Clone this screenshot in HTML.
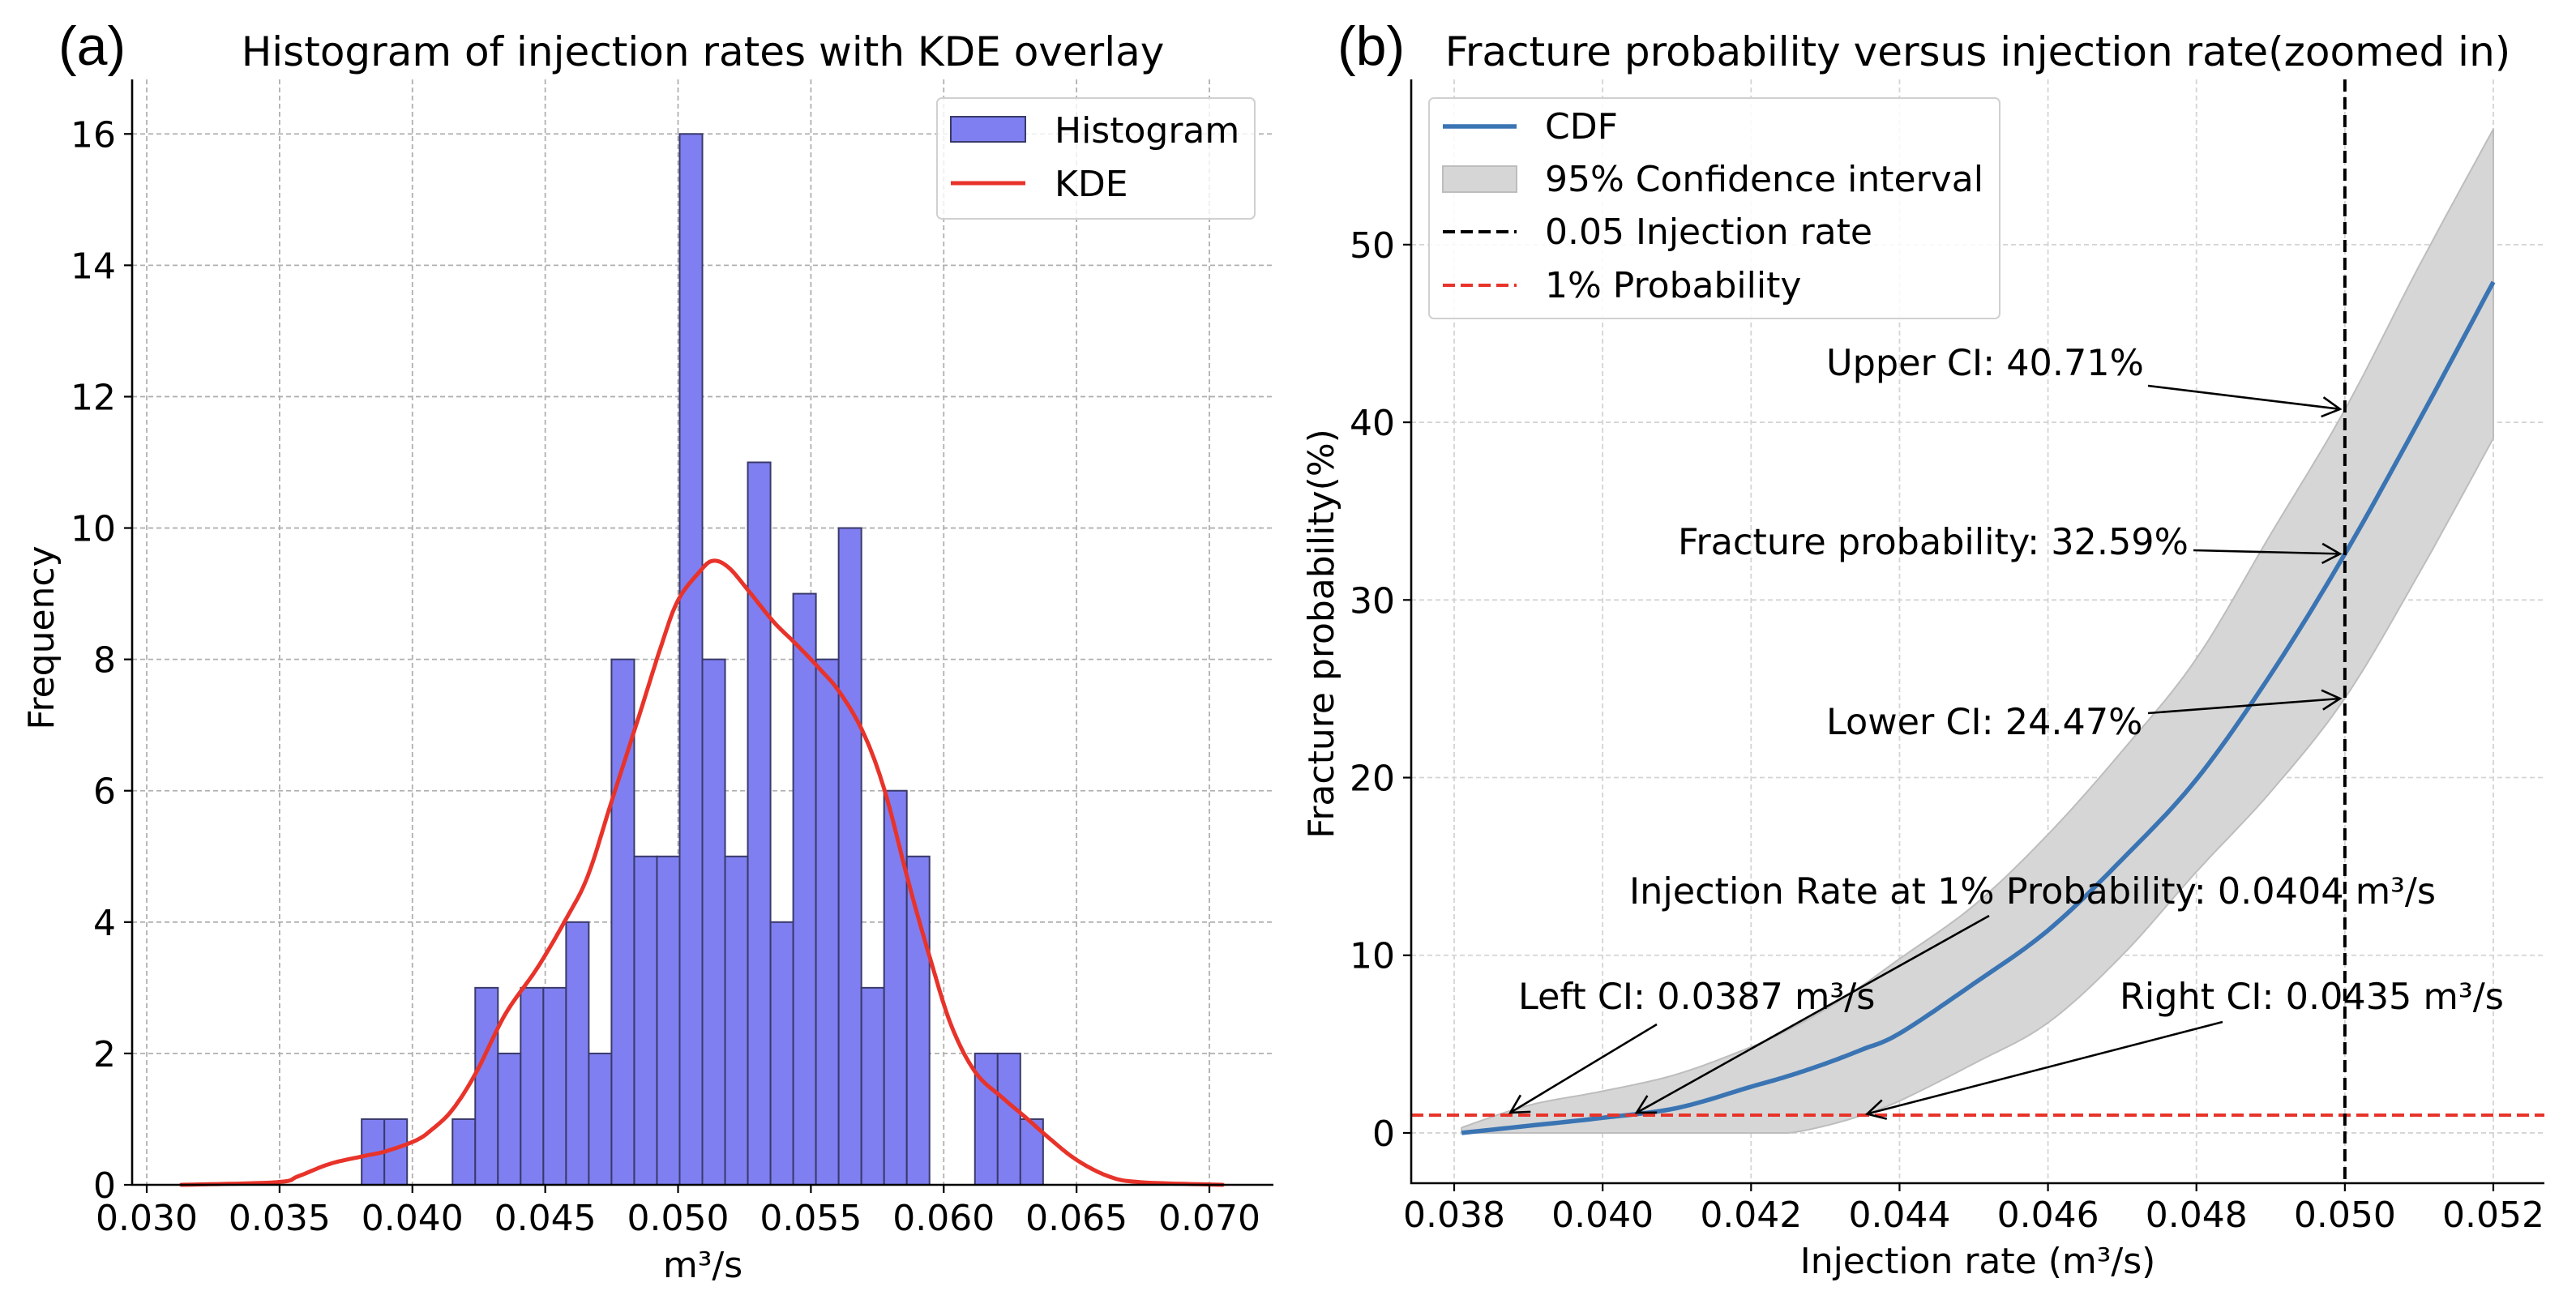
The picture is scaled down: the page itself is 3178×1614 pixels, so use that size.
<!DOCTYPE html>
<html><head><meta charset="utf-8">
<style>
html,body{margin:0;padding:0;background:#fff;}
svg{display:block;font-family:"DejaVu Sans","Liberation Sans",sans-serif;}
</style></head>
<body>
<svg id="fig" xmlns="http://www.w3.org/2000/svg" width="3178" height="1614" viewBox="0 0 3178 1614">
<defs>
<clipPath id="clipA"><rect x="163" y="98" width="1408" height="1364"/></clipPath>
<clipPath id="clipB"><rect x="1741" y="98" width="1398" height="1362"/></clipPath>
</defs>
<g id="panelA"></g>
<g id="panelB"></g>
</svg>
<script>
// ---------- Panel (a) data ----------
const binStart = 0.03809;
const binWidth = 0.000855;
const binCounts = [1,1,0,0,1,3,2,3,3,4,2,8,5,5,16,8,5,11,4,9,8,10,3,6,5,0,0,2,2,1];
const kdeX = [0.0313,0.0349,0.0357,0.0369,0.0382,0.0390,0.0401,0.0407,0.0415,0.0424,0.0435,0.0447,0.0458,0.0466,0.0475,0.0485,0.0494,0.0500,0.0508,0.0513,0.0519,0.0527,0.0536,0.0544,0.0553,0.0561,0.0570,0.0578,0.0587,0.0595,0.0603,0.0612,0.0622,0.0631,0.0640,0.0650,0.0662,0.0674,0.0705];
const kdeY = [0.0,0.04,0.13,0.32,0.44,0.51,0.67,0.83,1.14,1.71,2.6,3.3,4.06,4.7,5.84,7.1,8.25,8.9,9.33,9.5,9.4,9.02,8.57,8.25,7.87,7.49,6.86,5.97,4.57,3.43,2.41,1.71,1.33,1.02,0.70,0.38,0.13,0.04,0.0];
const aXTicks = [0.030,0.035,0.040,0.045,0.050,0.055,0.060,0.065,0.070];
const aXTickLabels = ["0.030","0.035","0.040","0.045","0.050","0.055","0.060","0.065","0.070"];
const aYTicks = [0,2,4,6,8,10,12,14,16];

// ---------- Panel (b) data ----------
const rateX = [0.0381,0.039,0.040,0.041,0.042,0.0425,0.043,0.0435,0.044,0.045,0.046,0.047,0.048,0.049,0.050,0.051,0.052];
const cdfY = [0,0.4,0.85,1.4,2.6,3.2,3.9,4.7,5.6,8.4,11.4,15.4,19.9,25.8,32.59,40.1,47.9];
const upperY = [0.3,1.55,2.35,3.3,4.84,5.8,6.95,8.3,9.8,12.8,16.8,21.5,26.7,33.7,40.71,48.8,56.5];
const lowerY = [0,0,0,0,0,0,0.4,1.0,1.8,3.9,6.2,10,14.7,19.2,24.47,31.5,39.1];
const bXTicks = [0.038,0.040,0.042,0.044,0.046,0.048,0.050,0.052];
const bXTickLabels = ["0.038","0.040","0.042","0.044","0.046","0.048","0.050","0.052"];
const bYTicks = [0,10,20,30,40,50];
const refRate = 0.05;
const refProb = 1;
const annFrac = 32.59, annUpper = 40.71, annLower = 24.47;
const rate1pct = 0.0404, leftCI = 0.0387, rightCI = 0.0435;

const NS = "http://www.w3.org/2000/svg";
function mk(parent, tag, attrs, text){
  const e = document.createElementNS(NS, tag);
  for (const k in attrs) e.setAttribute(k, attrs[k]);
  if (text !== undefined) e.textContent = text;
  parent.appendChild(e);
  return e;
}
function lin(d0,d1,r0,r1){ return v => r0 + (v-d0)/(d1-d0)*(r1-r0); }
// Catmull-Rom sampling in data space, clamped >= 0
function smooth(xs, ys){
  const out=[];
  const n=xs.length;
  for(let i=0;i<n-1;i++){
    const x0=xs[Math.max(i-1,0)], x1=xs[i], x2=xs[i+1], x3=xs[Math.min(i+2,n-1)];
    const y0=ys[Math.max(i-1,0)], y1=ys[i], y2=ys[i+1], y3=ys[Math.min(i+2,n-1)];
    for(let s=0;s<12;s++){
      const t=s/12, t2=t*t, t3=t2*t;
      const f=(a,b,c,d)=>0.5*((2*b)+(-a+c)*t+(2*a-5*b+4*c-d)*t2+(-a+3*b-3*c+d)*t3);
      out.push([f(x0,x1,x2,x3), Math.max(0,f(y0,y1,y2,y3))]);
    }
  }
  out.push([xs[n-1],ys[n-1]]);
  return out;
}

// ===== Panel A =====
const A = document.getElementById('panelA');
const axL=163, axR=1571, axT=98, axB=1462;
const xa = lin(0.02945, 0.07241, axL, axR);
const ya = lin(0, 16.83, axB, axT);

const gA = mk(A,'g',{});


aXTicks.forEach(t=>{ mk(gA,'line',{x1:xa(t),x2:xa(t),y1:axT,y2:axB,stroke:'#b0b0b0','stroke-width':1.8,'stroke-dasharray':'6,4'}); });
aYTicks.forEach(t=>{ mk(gA,'line',{x1:axL,x2:axR,y1:ya(t),y2:ya(t),stroke:'#b0b0b0','stroke-width':1.8,'stroke-dasharray':'6,4'}); });

const barsG = mk(A,'g',{'clip-path':'url(#clipA)'});


binCounts.forEach((c,i)=>{
  if (c<=0) return;
  const x0 = xa(binStart+i*binWidth), x1 = xa(binStart+(i+1)*binWidth);
  const r = mk(barsG,'rect',{x:x0,y:ya(c),width:x1-x0,height:ya(0)-ya(c),fill:'#7f7ff2',stroke:'#3a3a6a','stroke-width':2});
  
  
});

let kd = smooth(kdeX,kdeY).map((p,i)=>(i?'L':'M')+xa(p[0]).toFixed(1)+','+ya(p[1]).toFixed(1)).join(' ');
const kdeLine = mk(A,'path',{d:kd,fill:'none',stroke:'#e8332a','stroke-width':5,'stroke-linejoin':'round','stroke-linecap':'round'});



const spA = mk(A,'path',{d:`M${axL},${axT} L${axL},${axB} L${axR},${axB}`,fill:'none',stroke:'#000','stroke-width':2.6});



aXTicks.forEach((t,i)=>{
  mk(A,'line',{x1:xa(t),x2:xa(t),y1:axB,y2:axB+10,stroke:'#000','stroke-width':2.2});
  const tl = mk(A,'text',{x:xa(t),y:1518,'font-size':44,'text-anchor':'middle',fill:'#000'},aXTickLabels[i]);
  
  
});
aYTicks.forEach(t=>{
  mk(A,'line',{x1:axL-10,x2:axL,y1:ya(t),y2:ya(t),stroke:'#000','stroke-width':2.2});
  const tl = mk(A,'text',{x:axL-20,y:ya(t)+16,'font-size':44,'text-anchor':'end',fill:'#000'},String(t));
  
  
});
</script>
<script>
(function(){
const A = document.getElementById('panelA');
const NS="http://www.w3.org/2000/svg";
function t(attrs,txt,name){const e=document.createElementNS(NS,'text');for(const k in attrs)e.setAttribute(k,attrs[k]);e.textContent=txt;


A.appendChild(e);return e;}
t({x:867,y:81,'font-size':50,'text-anchor':'middle'},'Histogram of injection rates with KDE overlay','histogram-title');
t({x:72,y:80,'font-size':68,'font-family':'Liberation Sans, sans-serif'},'(a)','panel-a-label');
t({x:867,y:1576,'font-size':44,'text-anchor':'middle'},'m³/s','x-axis-title');
t({x:0,y:0,'font-size':44,'text-anchor':'middle',transform:'translate(66,787) rotate(-90)'},'Frequency','y-axis-title');
const lg=document.createElementNS(NS,'g');


A.appendChild(lg);
const bx=document.createElementNS(NS,'rect');
[['x',1156],['y',121],['width',392],['height',149],['rx',6],['fill','#fff'],['fill-opacity','0.8'],['stroke','#d0d0d0'],['stroke-width',2]].forEach(p=>bx.setAttribute(p[0],p[1]));
lg.appendChild(bx);
const pt=document.createElementNS(NS,'rect');
[['x',1173],['y',144],['width',92],['height',31],['fill','#7f7ff2'],['stroke','#3a3a6a'],['stroke-width',2]].forEach(p=>pt.setAttribute(p[0],p[1]));


lg.appendChild(pt);
const ln=document.createElementNS(NS,'line');
[['x1',1173],['x2',1265],['y1',226],['y2',226],['stroke','#e8332a'],['stroke-width',5]].forEach(p=>ln.setAttribute(p[0],p[1]));


lg.appendChild(ln);
const a1=t({x:1301,y:176,'font-size':44},'Histogram','legend-entry-histogram'); lg.appendChild(a1);
const a2=t({x:1301,y:242,'font-size':44},'KDE','legend-entry-kde'); lg.appendChild(a2);
})();
</script>
<script>
(function(){
const B = document.getElementById('panelB');
const L=1741,R=3139,T=98,Bm=1460;
const xb = lin(0.037421,0.052688,L,R);
const yb = lin(-2.83,59.3,Bm,T);

const g = mk(B,'g',{});


bXTicks.forEach(v=>mk(g,'line',{x1:xb(v),x2:xb(v),y1:T,y2:Bm,stroke:'#d4d4d4','stroke-width':1.8,'stroke-dasharray':'6,4'}));
bYTicks.forEach(v=>mk(g,'line',{x1:L,x2:R,y1:yb(v),y2:yb(v),stroke:'#d4d4d4','stroke-width':1.8,'stroke-dasharray':'6,4'}));

const up = smooth(rateX,upperY), lo = smooth(rateX,lowerY);
let d = up.map((p,i)=>(i?'L':'M')+xb(p[0]).toFixed(1)+','+yb(p[1]).toFixed(1)).join(' ');
for (let i=lo.length-1;i>=0;i--) d += ' L'+xb(lo[i][0]).toFixed(1)+','+yb(lo[i][1]).toFixed(1);
d += ' Z';
const band = mk(B,'path',{d:d,fill:'#d6d6d6',stroke:'#bdbdbd','stroke-width':2,'stroke-linejoin':'round'});



const cd = smooth(rateX,cdfY).map((p,i)=>(i?'L':'M')+xb(p[0]).toFixed(1)+','+yb(p[1]).toFixed(1)).join(' ');
const cdf = mk(B,'path',{d:cd,fill:'none',stroke:'#3a74b3','stroke-width':5.5,'stroke-linejoin':'round'});



const hl = mk(B,'line',{x1:L,x2:R,y1:yb(refProb),y2:yb(refProb),stroke:'#e8332a','stroke-width':4,'stroke-dasharray':'15,7'});


const vl = mk(B,'line',{x1:xb(refRate),x2:xb(refRate),y1:T,y2:Bm,stroke:'#000','stroke-width':4,'stroke-dasharray':'15,7'});



const sp = mk(B,'path',{d:`M${L},${T} L${L},${Bm} L${R},${Bm}`,fill:'none',stroke:'#000','stroke-width':2.6});



bXTicks.forEach((v,i)=>{
  mk(B,'line',{x1:xb(v),x2:xb(v),y1:Bm,y2:Bm+10,stroke:'#000','stroke-width':2.2});
  const tl = mk(B,'text',{x:xb(v),y:1514,'font-size':44,'text-anchor':'middle'},bXTickLabels[i]);
  
  
});
bYTicks.forEach(v=>{
  mk(B,'line',{x1:L-10,x2:L,y1:yb(v),y2:yb(v),stroke:'#000','stroke-width':2.2});
  const tl = mk(B,'text',{x:L-20,y:yb(v)+16,'font-size':44,'text-anchor':'end'},String(v));
  
  
});

function arrow(x1,y1,x2,y2,name){
  const gg = mk(B,'g',{});
  
  
  const dx=x2-x1, dy=y2-y1, len=Math.hypot(dx,dy), ux=dx/len, uy=dy/len;
  const ex=x2-ux*6, ey=y2-uy*6;
  mk(gg,'line',{x1:x1,y1:y1,x2:ex,y2:ey,stroke:'#000','stroke-width':2.6});
  const hx=ex-ux*22, hy=ey-uy*22, px=-uy*12, py=ux*12;
  mk(gg,'path',{d:`M${hx+px},${hy+py} L${ex},${ey} L${hx-px},${hy-py}`,fill:'none',stroke:'#000','stroke-width':2.6});
}
function label(x,y,txt,name){
  const tl = mk(B,'text',{x:x,y:y,'font-size':44.5},txt);
  
  
}
label(2253,463,'Upper CI: '+annUpper.toFixed(2)+'%','upper-ci-annotation');
arrow(2650,476,xb(refRate),yb(annUpper),'upper-ci-arrow');
label(2070,684,'Fracture probability: '+annFrac.toFixed(2)+'%','fracture-probability-annotation');
arrow(2706,679,xb(refRate),yb(annFrac),'fracture-probability-arrow');
label(2253,906,'Lower CI: '+annLower.toFixed(2)+'%','lower-ci-annotation');
arrow(2650,880,xb(refRate),yb(annLower),'lower-ci-arrow');
label(2010,1115,'Injection Rate at 1% Probability: '+rate1pct.toFixed(4)+' m³/s','injection-rate-1pct-annotation');
arrow(2454,1130,xb(rate1pct),yb(refProb),'injection-rate-1pct-arrow');
label(1873,1245,'Left CI: '+leftCI.toFixed(4)+' m³/s','left-ci-annotation');
arrow(2044,1264,xb(leftCI),yb(refProb),'left-ci-arrow');
label(2615,1245,'Right CI: '+rightCI.toFixed(4)+' m³/s','right-ci-annotation');
arrow(2742,1261,xb(rightCI),yb(refProb),'right-ci-arrow');

let e;
e = mk(B,'text',{x:2440,y:81,'font-size':50,'text-anchor':'middle'},'Fracture probability versus injection rate(zoomed in)');


e = mk(B,'text',{x:1650,y:80,'font-size':68,'font-family':'Liberation Sans, sans-serif'},'(b)');


e = mk(B,'text',{x:2440,y:1571,'font-size':44,'text-anchor':'middle'},'Injection rate (m³/s)');


e = mk(B,'text',{x:0,y:0,'font-size':44,'text-anchor':'middle',transform:'translate(1645,782) rotate(-90)'},'Fracture probability(%)');



const lg = mk(B,'g',{});


mk(lg,'rect',{x:1763,y:121,width:704,height:272,rx:6,fill:'#fff','fill-opacity':0.85,stroke:'#d0d0d0','stroke-width':2});
e = mk(lg,'line',{x1:1780,x2:1871,y1:156,y2:156,stroke:'#3a74b3','stroke-width':5.5});


e = mk(lg,'rect',{x:1780,y:205,width:91,height:32,fill:'#d6d6d6',stroke:'#bdbdbd','stroke-width':2});


e = mk(lg,'line',{x1:1780,x2:1871,y1:286,y2:286,stroke:'#000','stroke-width':4,'stroke-dasharray':'15,7'});


e = mk(lg,'line',{x1:1780,x2:1871,y1:352,y2:352,stroke:'#e8332a','stroke-width':4,'stroke-dasharray':'15,7'});


[['CDF',171],['95% Confidence interval',236],['0.05 Injection rate',301],['1% Probability',367]].forEach(p=>{
  const tl = mk(lg,'text',{x:1906,y:p[1],'font-size':44},p[0]);
  
  
});
})();
</script>
</body></html>
